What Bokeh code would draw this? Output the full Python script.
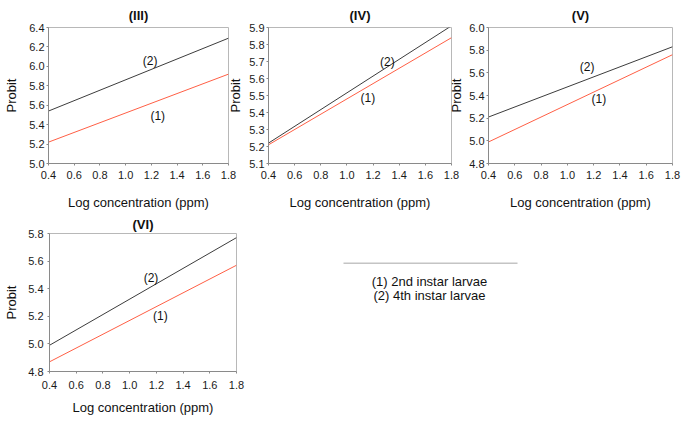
from bokeh.plotting import figure
from bokeh.layouts import row, column
from bokeh.models import Range1d, FixedTicker, PrintfTickFormatter, ColumnDataSource
from bokeh.embed import file_html
from bokeh.resources import INLINE
from bokeh.core.properties import value

FONT = "Liberation Sans"

# ---- data ----
x_conc = [0.4, 1.8]
x_ticks = [0.4, 0.6, 0.8, 1.0, 1.2, 1.4, 1.6, 1.8]

instar2_III = [5.22, 5.92]
instar4_III = [5.54, 6.29]
instar2_IV = [5.21, 5.84]
instar4_IV = [5.22, 5.91]
instar2_V = [4.99, 5.76]
instar4_V = [5.21, 5.83]
instar2_VI = [4.87, 5.57]
instar4_VI = [4.99, 5.77]

yticks_III = [5.0, 5.2, 5.4, 5.6, 5.8, 6.0, 6.2, 6.4]
yticks_IV = [5.1, 5.2, 5.3, 5.4, 5.5, 5.6, 5.7, 5.8, 5.9]
yticks_V = [4.8, 5.0, 5.2, 5.4, 5.6, 5.8, 6.0]
yticks_VI = [4.8, 5.0, 5.2, 5.4, 5.6, 5.8]

# label anchor positions (x, y) for "(1)" and "(2)"
lab1_III, lab2_III = (1.25, 5.49), (1.19, 6.06)
lab1_IV, lab2_IV = (1.16, 5.485), (1.31, 5.70)
lab1_V, lab2_V = (1.24, 5.37), (1.15, 5.65)
lab1_VI, lab2_VI = (1.23, 5.20), (1.16, 5.48)

legend_lines = ["(1) 2nd instar larvae", "(2) 4th instar larvae"]

BLACK = "#3c3c3c"
RED = "#ff5f45"


def panel(title, s2, s4, yticks, lab1, lab2, width, height, borders, margin,
          ystd, xstd, tstd):
    bl, br, bt, bb = borders
    p = figure(width=width, height=height, output_backend="svg", toolbar_location=None,
               x_range=Range1d(0.4, 1.8), y_range=Range1d(yticks[0], yticks[-1]),
               min_border_left=bl, min_border_right=br, min_border_top=bt, min_border_bottom=bb,
               title=title)
    p.margin = margin
    p.background_fill_alpha = 0
    p.border_fill_alpha = 0
    p.grid.visible = False
    p.outline_line_color = "#b8b8b8"
    p.title.text_font = FONT
    p.title.text_font_size = "13px"
    p.title.text_font_style = "bold"
    p.title.align = "center"
    p.title.standoff = tstd
    p.title.offset = 0
    p.title.text_color = "#111111"
    for ax in (p.xaxis[0], p.yaxis[0]):
        ax.axis_line_color = "#8a8a8a"
        ax.major_tick_line_color = "#8a8a8a"
        ax.minor_tick_line_color = None
        ax.major_label_text_font = FONT
        ax.major_label_text_font_size = "11px"
        ax.major_label_text_color = "#1a1a1a"
        ax.axis_label_text_font = FONT
        ax.axis_label_text_font_size = "13px"
        ax.axis_label_text_font_style = "normal"
        ax.axis_label_text_color = "#111111"
        ax.major_tick_in = 0
        ax.major_tick_out = 2
    p.xaxis.ticker = FixedTicker(ticks=x_ticks)
    p.yaxis.ticker = FixedTicker(ticks=yticks)
    p.xaxis.formatter = PrintfTickFormatter(format="%.1f")
    p.yaxis.formatter = PrintfTickFormatter(format="%.1f")
    p.xaxis.axis_label = "Log concentration (ppm)"
    p.yaxis.axis_label = "Probit"
    p.yaxis.major_label_standoff = ystd[0]
    p.yaxis.axis_label_standoff = ystd[1]
    p.xaxis.major_label_standoff = xstd[0]
    p.xaxis.axis_label_standoff = xstd[1]

    p.line(x_conc, s4, line_color=BLACK, line_width=1)
    p.line(x_conc, s2, line_color=RED, line_width=1)
    src = ColumnDataSource(dict(x=[lab1[0], lab2[0]], y=[lab1[1], lab2[1]], t=["(1)", "(2)"]))
    p.text(x="x", y="y", text="t", source=src, text_font=value(FONT), text_font_size="12px",
           text_align="center", text_baseline="middle", text_color="#111111")
    return p


# row 1: frames at x 48-228, 268-451, 488-672 ; y 27-163
f1 = panel("(III)", instar2_III, instar4_III, yticks_III, lab1_III, lab2_III,
           238, 212, (48, 10, 27, 49), (0, 0, 0, 0), (2, 7), (5, 13), 9)
f2 = panel("(IV)", instar2_IV, instar4_IV, yticks_IV, lab1_IV, lab2_IV,
           238, 212, (45, 10, 27, 49), (0, 0, 0, -15), (2, 3), (5, 13), 9)
f3 = panel("(V)", instar2_V, instar4_V, yticks_V, lab1_V, lab2_V,
           239, 212, (45, 10, 27, 49), (0, 0, 0, -18), (2, 2), (5, 13), 9)
# row 2: frame at x 49-236 ; y 232-371
f4 = panel("(VI)", instar2_VI, instar4_VI, yticks_VI, lab1_VI, lab2_VI,
           248, 209, (49, 12, 20, 50), (0, 0, 0, 0), (4, 6), (7, 8), 4)

# legend panel (frame aligned with panel VI; coordinates in page pixels)
lg = figure(width=434, height=209, output_backend="svg", toolbar_location=None,
            x_range=Range1d(248, 682), y_range=Range1d(371, 232),
            min_border_left=0, min_border_right=0, min_border_top=20, min_border_bottom=50)
lg.axis.visible = False
lg.grid.visible = False
lg.outline_line_color = None
lg.background_fill_alpha = 0
lg.border_fill_alpha = 0
lg.segment(x0=[343], y0=[262], x1=[517], y1=[262], line_color="#c4c4c4", line_width=1.5)
lg.text(x=[429, 429], y=[280, 294], text=legend_lines, text_font=value(FONT),
        text_font_size="13px", text_align="center", text_baseline="middle", text_color="#111111")

layout = column(row(f1, f2, f3), row(f4, lg))

open("out.html", "w").write(file_html(layout, INLINE))
